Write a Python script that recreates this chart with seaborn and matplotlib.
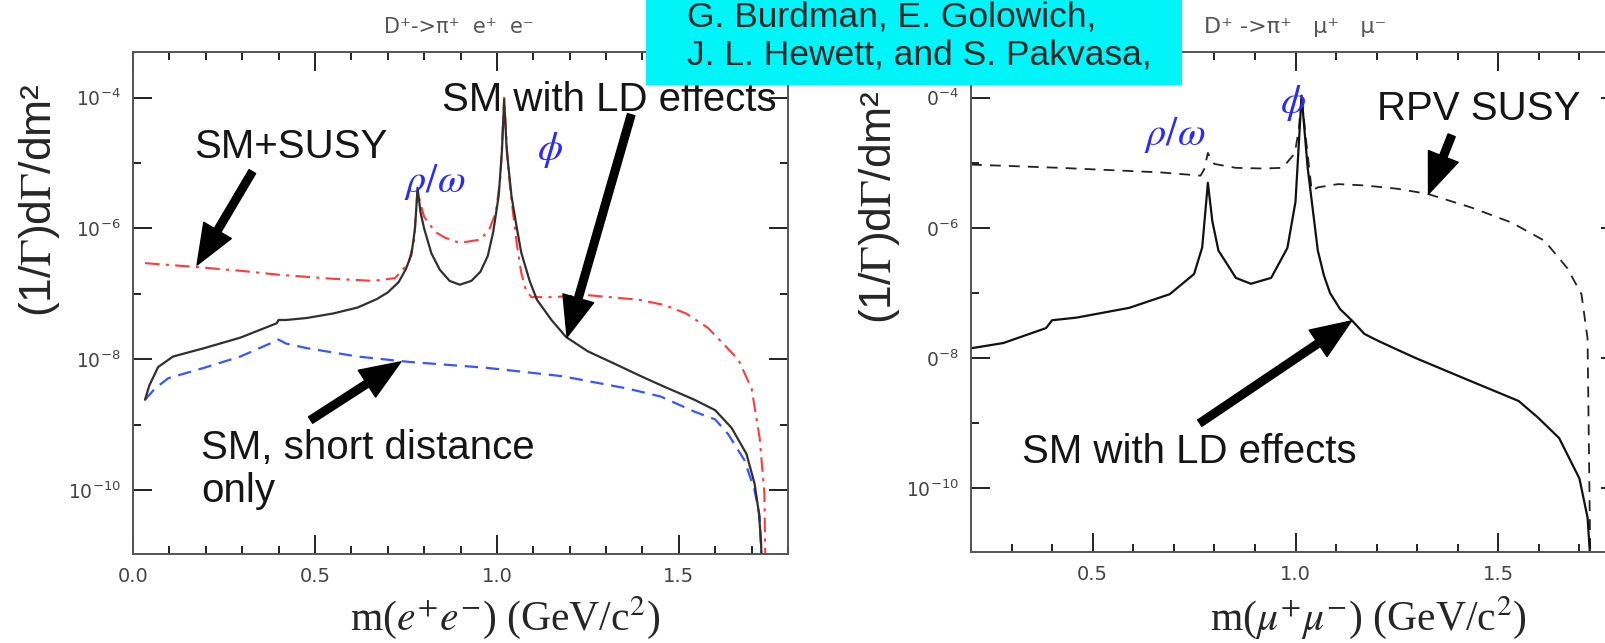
import matplotlib
matplotlib.use('Agg')
import matplotlib.pyplot as plt
from matplotlib.patches import Rectangle
from matplotlib.ticker import FixedLocator, MultipleLocator, NullFormatter, FixedFormatter
import seaborn as sns

# ---- data ----
# left panel: D+ -> pi+ e+ e-
ee_ld_x = [0.033, 0.045, 0.069, 0.11, 0.196, 0.295, 0.395, 0.40, 0.42, 0.477, 0.55, 0.617, 0.67, 0.70,
           0.73, 0.75, 0.765, 0.775, 0.782, 0.79, 0.80, 0.82, 0.843, 0.87, 0.898, 0.93, 0.955, 0.975,
           0.99, 1.005, 1.014, 1.02, 1.027, 1.04, 1.055, 1.067, 1.09, 1.11, 1.15, 1.19, 1.25, 1.32,
           1.40, 1.46, 1.543, 1.60, 1.645, 1.686, 1.708, 1.72, 1.726, 1.728]
ee_ld_y = [2.40e-9, 3.98e-9, 7.59e-9, 1.10e-8, 1.48e-8, 2.14e-8, 3.55e-8, 3.98e-8, 3.98e-8, 4.27e-8,
           5.01e-8, 6.17e-8, 8.32e-8, 1.05e-7, 1.51e-7, 2.40e-7, 3.98e-7, 1.0e-6, 4.17e-6, 1.78e-6,
           1.0e-6, 4.17e-7, 2.34e-7, 1.58e-7, 1.38e-7, 1.58e-7, 2.19e-7, 3.80e-7, 8.91e-7, 3.16e-6,
           1.58e-5, 9.33e-5, 1.58e-5, 3.16e-6, 1.0e-6, 4.27e-7, 1.58e-7, 8.13e-8, 3.98e-8, 2.19e-8,
           1.32e-8, 8.71e-9, 5.37e-9, 3.80e-9, 2.40e-9, 1.66e-9, 8.91e-10, 3.55e-10, 1.26e-10,
           4.47e-11, 1.58e-11, 6.3e-12]

ee_sd_x = [0.033, 0.06, 0.097, 0.196, 0.295, 0.393, 0.40, 0.42, 0.477, 0.617, 0.757, 0.97, 1.18, 1.36,
           1.45, 1.543, 1.60, 1.636, 1.68, 1.708, 1.722, 1.728]
ee_sd_y = [2.40e-9, 3.55e-9, 5.13e-9, 7.41e-9, 1.10e-8, 1.91e-8, 2.0e-8, 1.74e-8, 1.48e-8, 1.10e-8,
           9.12e-9, 7.41e-9, 5.50e-9, 3.55e-9, 2.69e-9, 1.58e-9, 1.20e-9, 7.08e-10, 2.88e-10, 1.0e-10,
           3.98e-11, 6.3e-12]

ee_susy_x = [0.033, 0.176, 0.30, 0.405, 0.55, 0.66, 0.72, 0.757, 0.772, 0.782, 0.79, 0.80, 0.83, 0.857,
             0.898, 0.955, 0.98, 0.997, 1.01, 1.02, 1.03, 1.04, 1.055, 1.067, 1.08, 1.095, 1.15, 1.25,
             1.39, 1.46, 1.52, 1.58, 1.625, 1.664, 1.70, 1.722, 1.735, 1.738]
ee_susy_y = [2.95e-7, 2.57e-7, 2.24e-7, 1.95e-7, 1.70e-7, 1.58e-7, 1.74e-7, 2.95e-7, 6.31e-7, 3.89e-6,
             2.40e-6, 1.51e-6, 8.91e-7, 7.24e-7, 6.03e-7, 6.76e-7, 1.0e-6, 1.74e-6, 6.31e-6, 1.0e-4,
             1.0e-5, 2.75e-6, 5.62e-7, 2.09e-7, 1.12e-7, 8.91e-8, 8.91e-8, 9.55e-8, 8.13e-8, 6.76e-8,
             5.01e-8, 3.02e-8, 1.66e-8, 9.77e-9, 3.55e-9, 6.31e-10, 8.91e-11, 6.3e-12]

# right panel: D+ -> pi+ mu+ mu-
mm_ld_x = [0.2, 0.28, 0.385, 0.40, 0.46, 0.59, 0.69, 0.75, 0.77, 0.784, 0.795, 0.81, 0.853, 0.89, 0.94,
           0.98, 1.0, 1.015, 1.03, 1.055, 1.07, 1.085, 1.11, 1.14, 1.17, 1.205, 1.25, 1.296, 1.43, 1.55,
           1.597, 1.65, 1.70, 1.72, 1.728]
mm_ld_y = [1.41e-8, 1.70e-8, 2.88e-8, 3.80e-8, 4.17e-8, 5.89e-8, 9.55e-8, 1.95e-7, 5.01e-7, 4.90e-6,
           1.26e-6, 4.47e-7, 1.70e-7, 1.38e-7, 1.70e-7, 4.90e-7, 2.51e-6, 1.07e-4, 8.32e-6, 4.47e-7,
           1.86e-7, 1.0e-7, 5.62e-8, 3.72e-8, 2.34e-8, 1.82e-8, 1.35e-8, 1.0e-8, 4.47e-9, 2.19e-9,
           1.23e-9, 5.89e-10, 1.41e-10, 3.55e-11, 6.3e-12]

mm_rpv_x = [0.2, 0.42, 0.668, 0.766, 0.775, 0.784, 0.792, 0.80, 0.853, 0.917, 0.968, 0.998, 1.008,
            1.015, 1.025, 1.04, 1.055, 1.105, 1.17, 1.25, 1.326, 1.434, 1.533, 1.614, 1.67, 1.705,
            1.72, 1.727]
mm_rpv_y = [9.33e-6, 8.32e-6, 7.08e-6, 6.31e-6, 7.94e-6, 1.41e-5, 1.12e-5, 9.55e-6, 8.32e-6, 8.13e-6,
            8.32e-6, 1.38e-5, 3.16e-5, 1.07e-4, 2.51e-5, 3.72e-6, 4.17e-6, 4.68e-6, 4.47e-6, 3.98e-6,
            3.31e-6, 2.04e-6, 1.20e-6, 6.31e-7, 2.40e-7, 9.55e-8, 2.0e-8, 6.3e-12]

y_major = [1e-10, 1e-8, 1e-6, 1e-4]
y_minor = [1e-9, 1e-7, 1e-5]
left_ylabels = [r'$\mathregular{10^{-10}}$', r'$\mathregular{10^{-8}}$', r'$\mathregular{10^{-6}}$',
                r'$\mathregular{10^{-4}}$']
right_ylabels = [r'$\mathregular{10^{-10}}$', r'$\mathregular{0^{-8}}$', r'$\mathregular{0^{-6}}$',
                 r'$\mathregular{0^{-4}}$']
left_xticks = [0.0, 0.5, 1.0, 1.5]
right_xticks = [0.5, 1.0, 1.5]

sns.set_style('ticks')
plt.rcParams['mathtext.fontset'] = 'stix'
plt.rcParams['font.family'] = ['DejaVu Sans']

W, H = 1605, 643
fig = plt.figure(figsize=(W / 100, H / 100), dpi=100)
fig.patch.set_facecolor('white')

def px(x0, y0, x1, y1):
    return [x0 / W, 1 - y1 / H, (x1 - x0) / W, (y1 - y0) / H]

ax1 = fig.add_axes(px(133, 52, 788, 554))
ax2 = fig.add_axes(px(971, 52, 1620, 552))

sns.lineplot(x=ee_susy_x, y=ee_susy_y, ax=ax1, color='#ff3b3b', lw=1.5, sort=False, estimator=None,
             linestyle=(0, (7, 3, 1.5, 3)))
sns.lineplot(x=ee_sd_x, y=ee_sd_y, ax=ax1, color='#3a55ff', lw=1.6, sort=False, estimator=None,
             linestyle=(0, (6, 3.5)))
sns.lineplot(x=ee_ld_x, y=ee_ld_y, ax=ax1, color='#303030', lw=1.6, sort=False, estimator=None)

sns.lineplot(x=mm_rpv_x, y=mm_rpv_y, ax=ax2, color='#222222', lw=1.3, sort=False, estimator=None,
             linestyle=(0, (6, 4.5)))
sns.lineplot(x=mm_ld_x, y=mm_ld_y, ax=ax2, color='#111111', lw=1.6, sort=False, estimator=None)

for ax, xl, xt, ylabs in [(ax1, (0, 1.8), left_xticks, left_ylabels),
                          (ax2, (0.2, 1.8), right_xticks, right_ylabels)]:
    ax.set_yscale('log')
    ax.set_xlim(*xl)
    ax.set_ylim(1.05e-11, 5e-4)
    ax.xaxis.set_major_locator(FixedLocator(xt))
    ax.xaxis.set_major_formatter(FixedFormatter(['%.1f' % v for v in xt]))
    ax.xaxis.set_minor_locator(MultipleLocator(0.1))
    ax.yaxis.set_major_locator(FixedLocator(y_major))
    ax.yaxis.set_major_formatter(FixedFormatter(ylabs))
    ax.yaxis.set_minor_locator(FixedLocator(y_minor))
    ax.yaxis.set_minor_formatter(NullFormatter())
    ax.tick_params(which='both', direction='in', top=True, right=True, color='#222222',
                   labelcolor='#444444', width=1.4)
    ax.tick_params(axis='x', labelsize=14)
    ax.tick_params(axis='y', labelsize=13.5)
    ax.tick_params(which='major', length=14, pad=9)
    ax.tick_params(which='minor', length=6)
    for s in ax.spines.values():
        s.set_color('#555555')
        s.set_linewidth(1.4)
    ax.set_xlabel('')
    ax.set_ylabel('')

sans = ['Liberation Sans', 'DejaVu Sans']
txt = dict(family=sans, fontsize=29, color='#151515')
blue = dict(fontsize=29, color='#2a2aff', ha='left', va='center')
arrow = dict(facecolor='black', edgecolor='black', width=5.5, headwidth=23, headlength=29, shrink=0)

# left panel annotations
ax1.text(0.168, 10 ** -4.75, 'SM+SUSY', ha='left', va='center', **txt)
ax1.text(0.849, 10 ** -4.03, 'SM with LD effects', ha='left', va='center', **txt)
ax1.text(0.187, 10 ** -9.69, 'SM, short distance\nonly', ha='left', va='center', linespacing=1.15, **txt)
ax1.text(0.744, 10 ** -5.29, r'$\rho/\omega$', **blue)
ax1.text(1.11, 10 ** -4.80, r'$\phi$', **blue)
ax1.annotate('', xy=(0.176, 10 ** -6.56), xytext=(0.328, 10 ** -5.13), arrowprops=arrow)
ax1.annotate('', xy=(1.193, 10 ** -7.66), xytext=(1.369, 10 ** -4.26), arrowprops=arrow)
ax1.annotate('', xy=(0.736, 10 ** -8.04), xytext=(0.488, 10 ** -8.93), arrowprops=arrow)

# right panel annotations
ax2.text(0.626, 10 ** -4.58, r'$\rho/\omega$', **blue)
ax2.text(0.961, 10 ** -4.09, r'$\phi$', **blue)
ax2.text(1.20, 10 ** -4.17, 'RPV SUSY', ha='left', va='center', **txt)
ax2.text(0.326, 10 ** -9.45, 'SM with LD effects', ha='left', va='center', **txt)
ax2.annotate('', xy=(1.328, 10 ** -5.48), xytext=(1.385, 10 ** -4.58), arrowprops=arrow)
ax2.annotate('', xy=(1.138, 10 ** -7.43), xytext=(0.764, 10 ** -9.0), arrowprops=arrow)

# panel titles
fig.text(459 / W, 1 - 27 / H, 'D⁺->π⁺  e⁺  e⁻', ha='center', va='center', fontsize=15, color='#555555')
fig.text(1295 / W, 1 - 27 / H, 'D⁺ ->π⁺   μ⁺   μ⁻', ha='center', va='center', fontsize=16,
         color='#555555')

# axis labels
ylab = r'(1/$\Gamma$)d$\Gamma$/dm²'
fig.text(40 / W, 1 - 200 / H, ylab, rotation=90, ha='center', va='center', fontsize=32, family=sans)
fig.text(880 / W, 1 - 207 / H, ylab, rotation=90, ha='center', va='center', fontsize=32, family=sans)
serif = ['Liberation Serif', 'DejaVu Serif']
fig.text(505 / W, 1 - 618 / H, r'm($e^{+}e^{-}$) (GeV/c$^{2}$)', ha='center', va='center',
         fontsize=30, family=serif)
fig.text(1368 / W, 1 - 618 / H, r'm($\mu^{+}\mu^{-}$) (GeV/c$^{2}$)', ha='center', va='center',
         fontsize=30, family=serif)

# reference box
fig.add_artist(Rectangle((646 / W, 1 - 85 / H), (1182 - 646) / W, 85 / H, transform=fig.transFigure,
                         facecolor='#00f4f8', edgecolor='none', zorder=10))
fig.text(687 / W, 1 - 17 / H, 'G. Burdman, E. Golowich,', ha='left', va='center', fontsize=25.5,
         family=sans, zorder=11)
fig.text(687 / W, 1 - 55 / H, 'J. L. Hewett, and S. Pakvasa,', ha='left', va='center', fontsize=25.5,
         family=sans, zorder=11)

fig.savefig('out.png', dpi=100)
